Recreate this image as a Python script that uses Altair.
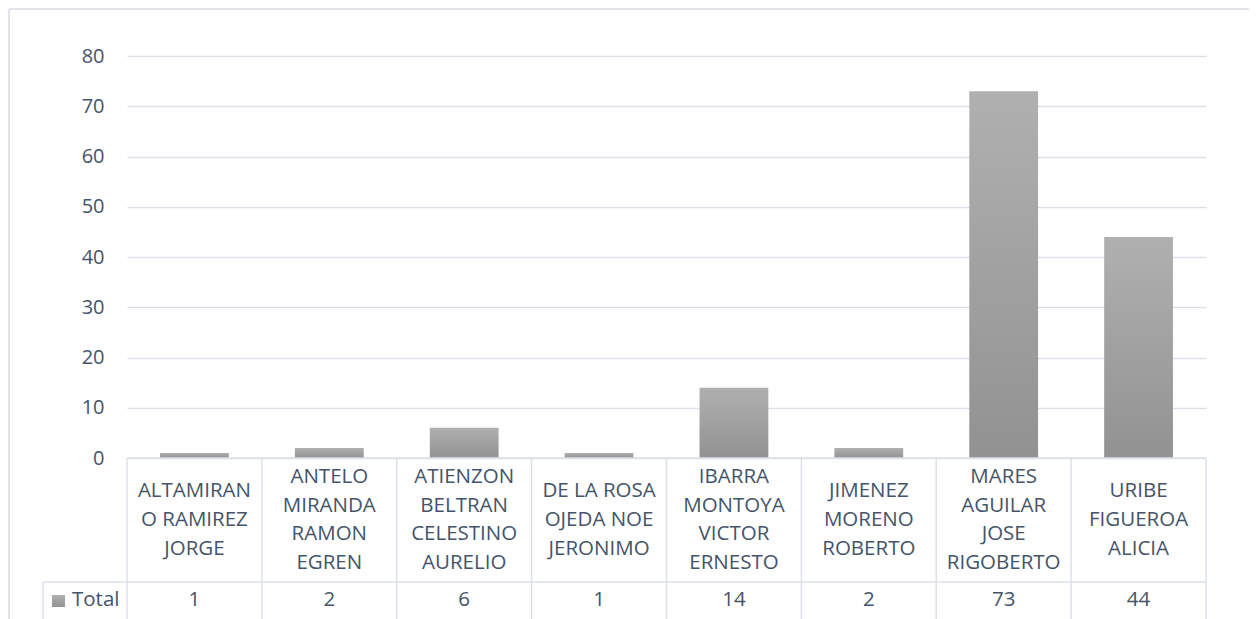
import altair as alt
import pandas as pd

# ---- data ----
names = [
    "ALTAMIRANO RAMIREZ JORGE",
    "ANTELO MIRANDA RAMON EGREN",
    "ATIENZON BELTRAN CELESTINO AURELIO",
    "DE LA ROSA OJEDA NOE JERONIMO",
    "IBARRA MONTOYA VICTOR ERNESTO",
    "JIMENEZ MORENO ROBERTO",
    "MARES AGUILAR JOSE RIGOBERTO",
    "URIBE FIGUEROA ALICIA",
]
wrapped_labels = [
    "ALTAMIRAN\nO RAMIREZ\nJORGE",
    "ANTELO\nMIRANDA\nRAMON\nEGREN",
    "ATIENZON\nBELTRAN\nCELESTINO\nAURELIO",
    "DE LA ROSA\nOJEDA NOE\nJERONIMO",
    "IBARRA\nMONTOYA\nVICTOR\nERNESTO",
    "JIMENEZ\nMORENO\nROBERTO",
    "MARES\nAGUILAR\nJOSE\nRIGOBERTO",
    "URIBE\nFIGUEROA\nALICIA",
]
totals = [1, 2, 6, 1, 14, 2, 73, 44]
series_name = "Total"
y_ticks = [0, 10, 20, 30, 40, 50, 60, 70, 80]

df = pd.DataFrame({"name": names, "label": wrapped_labels, "total": totals})

# ---- layout / style ----
W, H = 1079, 402
FONT = "Open Sans"
TXT = "#44546A"
LINE = "#DCE1E8"
LH = 28.7
CELL_MID = 464  # vertical centre of the names row, plot pixels
grad = alt.Gradient(
    gradient="linear",
    stops=[alt.GradientStop(color="#B0B0B0", offset=0),
           alt.GradientStop(color="#929292", offset=1)],
    x1=0, x2=0, y1=0, y2=1,
)

xenc = alt.X("name:N", sort=names, axis=None, scale=alt.Scale(paddingInner=0, paddingOuter=0))

bars = alt.Chart(df).mark_bar(width=alt.RelativeBandSize(0.51), color=grad).encode(
    x=xenc,
    y=alt.Y("total:Q", title=None,
            scale=alt.Scale(domain=[0, 80], nice=False),
            axis=alt.Axis(values=y_ticks, domain=False, ticks=False, labelPadding=23,
                          labelFont=FONT, labelFontSize=20, labelColor=TXT,
                          gridColor=LINE, gridWidth=1.5)),
)

one = alt.Data(values=[{"k": 0}])

# table vertical separators at band starts
vlines = alt.Chart(df).mark_rule(color=LINE, strokeWidth=1.5).encode(
    x=alt.X("name:N", sort=names, bandPosition=0, axis=None),
    y=alt.value(H), y2=alt.value(H + 170),
)
vline_end = alt.Chart(one).mark_rule(color=LINE, strokeWidth=1.5).encode(
    x=alt.value(W), y=alt.value(H), y2=alt.value(H + 170)
)
hline_top = alt.Chart(one).mark_rule(color=LINE, strokeWidth=1.5).encode(
    x=alt.value(0), x2=alt.value(W), y=alt.value(H)
)
hline_mid = alt.Chart(one).mark_rule(color=LINE, strokeWidth=1.5).encode(
    x=alt.value(-84), x2=alt.value(W), y=alt.value(526)
)
vline_left = alt.Chart(one).mark_rule(color=LINE, strokeWidth=1.5).encode(
    x=alt.value(-84), y=alt.value(526), y2=alt.value(H + 170)
)


def names_layer(nlines):
    return alt.Chart(df).transform_calculate(
        n="length(split(datum.label, '\\n'))"
    ).transform_filter(
        alt.datum.n == nlines
    ).mark_text(
        lineBreak="\n", lineHeight=LH, baseline="middle", align="center",
        font=FONT, fontSize=20.5, color=TXT,
    ).encode(
        x=alt.X("name:N", sort=names, axis=None),
        y=alt.value(CELL_MID - (nlines - 1) * LH / 2),
        text="label:N",
    )


name_text3 = names_layer(3)
name_text4 = names_layer(4)

value_text = alt.Chart(df).mark_text(
    baseline="middle", align="center", font=FONT, fontSize=20.5, color=TXT,
).encode(x=alt.X("name:N", sort=names, axis=None), y=alt.value(544), text="total:Q")

legend_text = alt.Chart(alt.Data(values=[{"s": series_name}])).mark_text(
    baseline="middle", align="left", font=FONT, fontSize=20.5, color=TXT,
).encode(x=alt.value(-55), y=alt.value(544), text="s:N")

swatch = alt.Chart(one).mark_rect(color=grad).encode(
    x=alt.value(-75), x2=alt.value(-62), y=alt.value(539), y2=alt.value(551)
)

# outer chart border (top and left, as cropped in the reference)
border_top = alt.Chart(one).mark_rule(color="#E1E5EB", strokeWidth=2).encode(
    x=alt.value(-118), x2=alt.value(W + 45), y=alt.value(-47)
)
border_left = alt.Chart(one).mark_rule(color="#E1E5EB", strokeWidth=2).encode(
    x=alt.value(-118), y=alt.value(-47), y2=alt.value(H + 170)
)

chart = alt.layer(
    bars, vlines, vline_end, hline_top, hline_mid, vline_left,
    name_text3, name_text4, value_text, legend_text, swatch, border_top, border_left,
).properties(
    width=W, height=H,
    autosize=alt.AutoSizeParams(type="none"),
    padding={"left": 119, "top": 48, "right": 43, "bottom": 161},
    background="white",
).configure_view(strokeWidth=0)

chart.save("out.html", embed_options={"renderer": "svg", "actions": False})
